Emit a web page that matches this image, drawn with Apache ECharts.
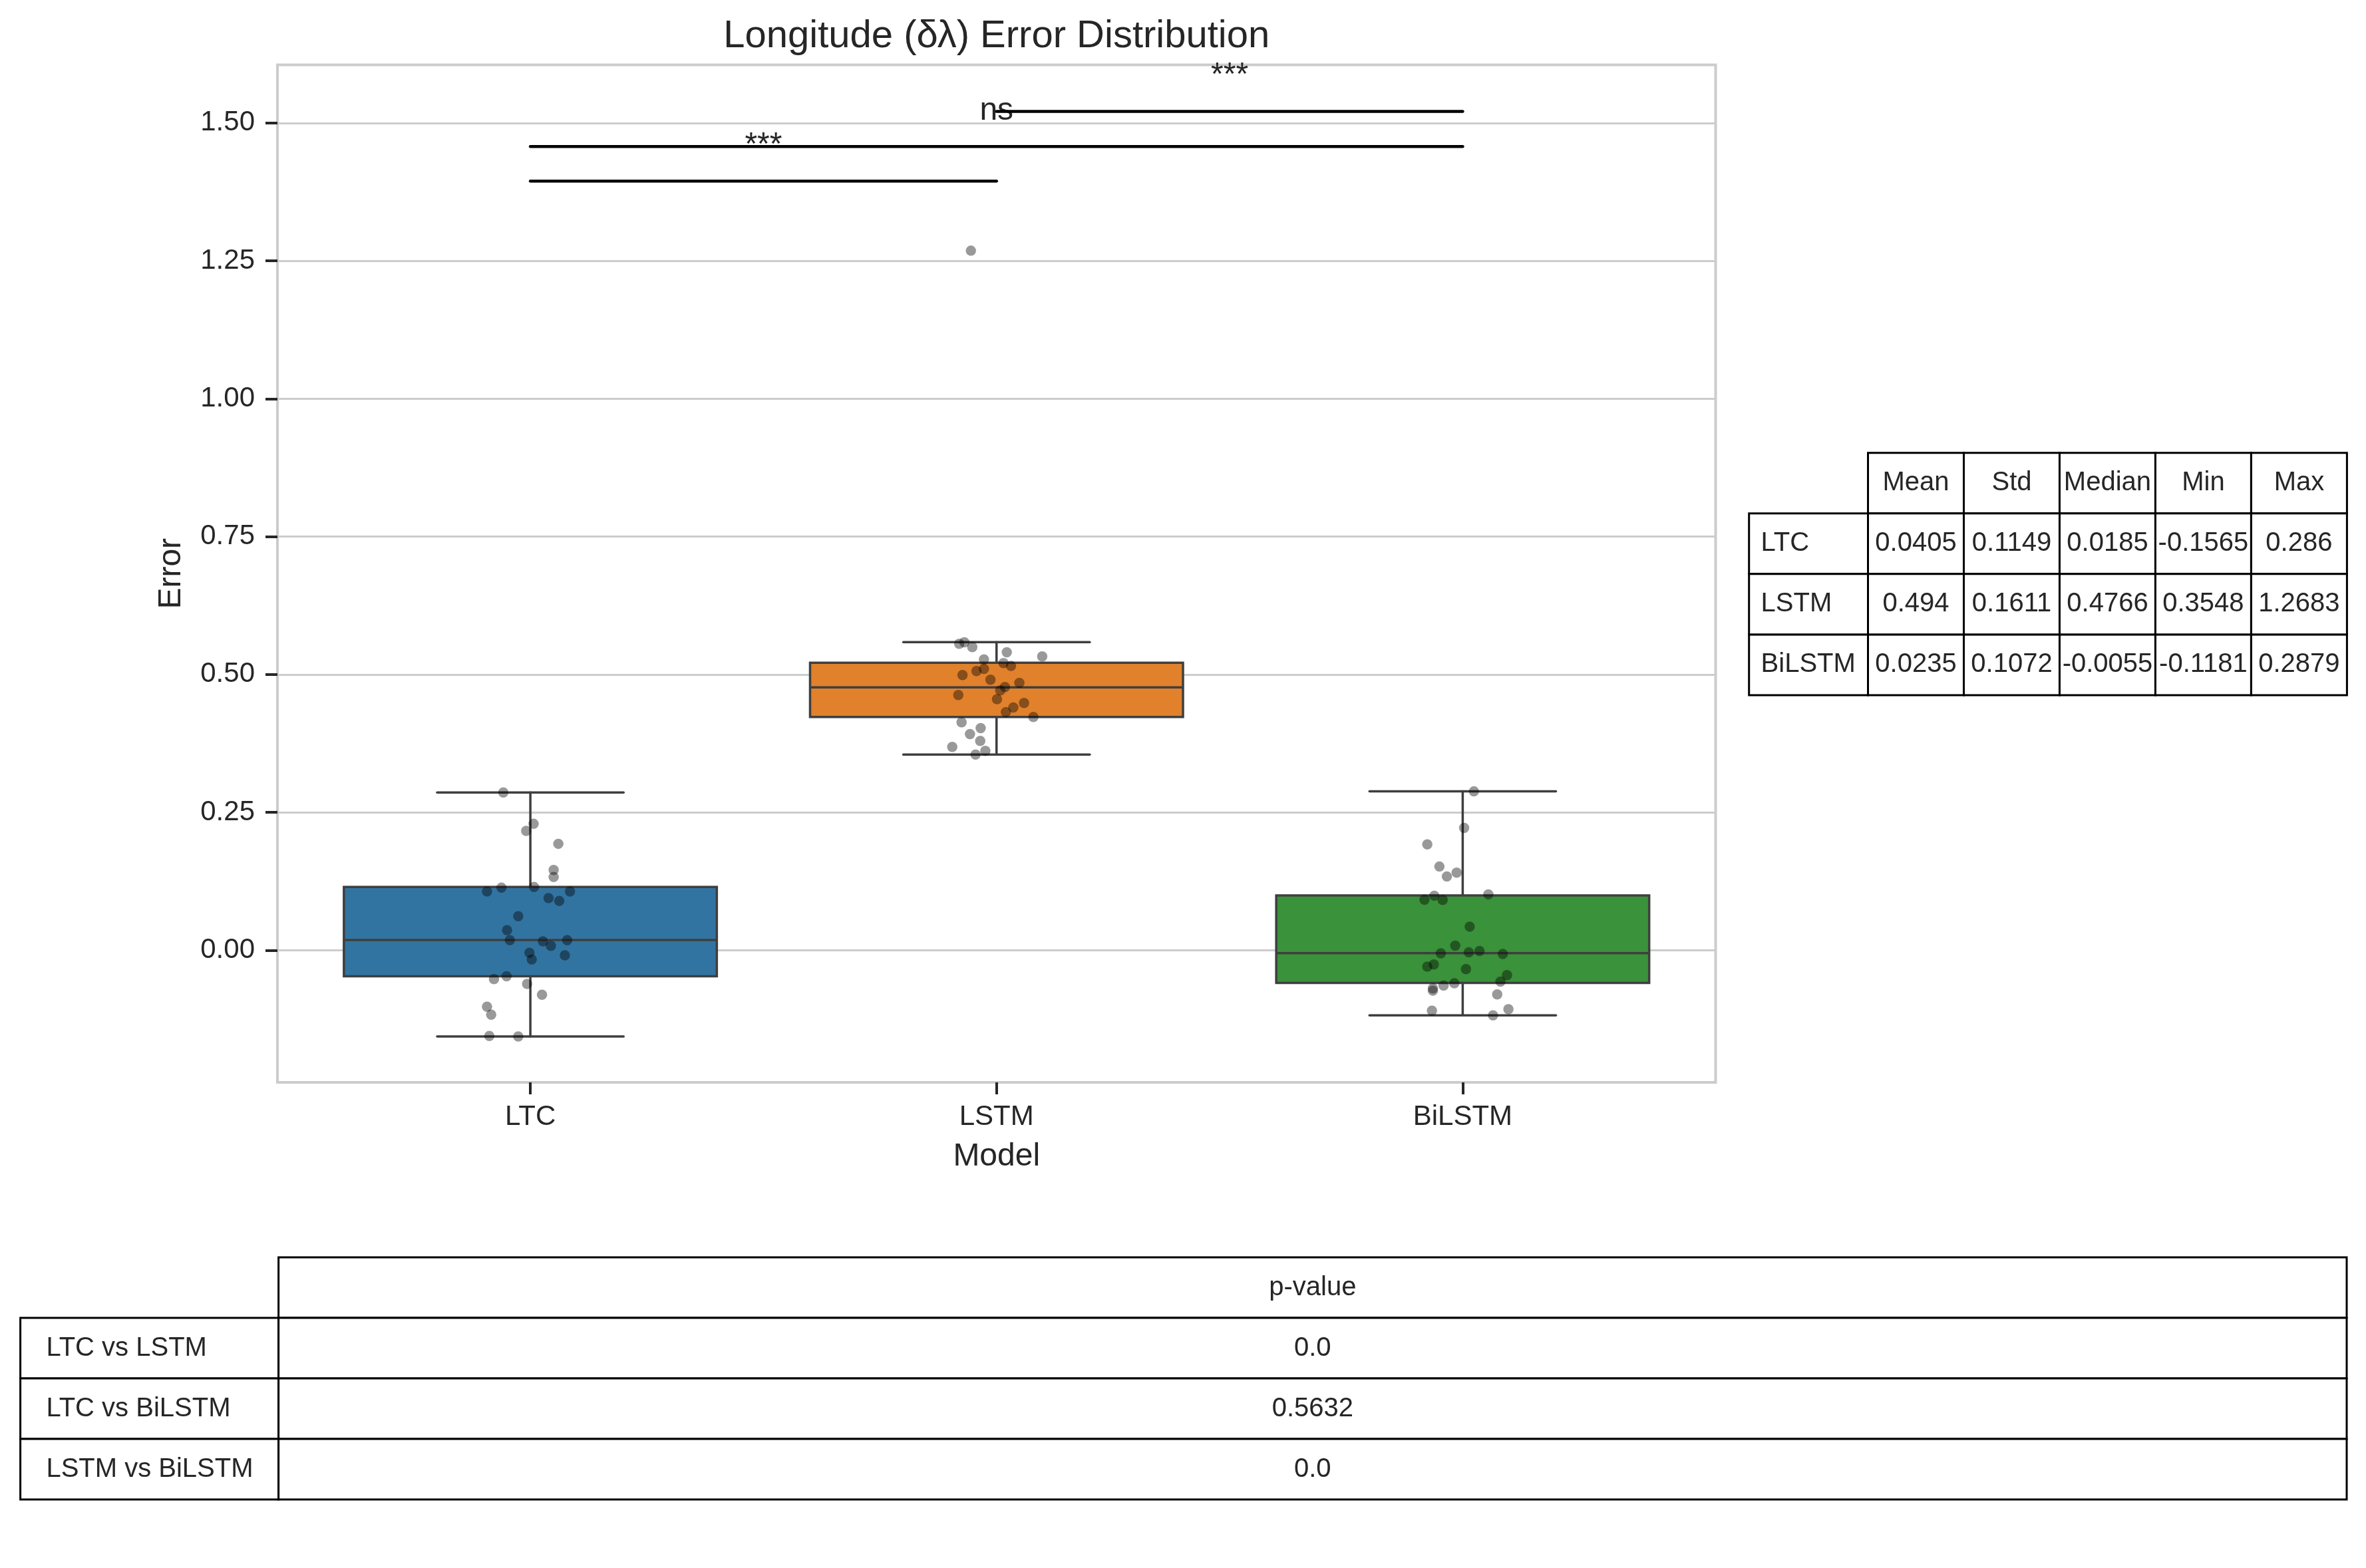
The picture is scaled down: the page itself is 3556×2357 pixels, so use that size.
<!DOCTYPE html>
<html><head><meta charset="utf-8">
<script src="https://cdn.jsdelivr.net/npm/echarts@6/dist/echarts.min.js"></script>
<style>html,body{margin:0;padding:0;background:#fff}#c{width:3556px;height:2357px}</style>
</head><body><div id="c"></div>
<script>
// ---------- data ----------
const categories = ['LTC', 'LSTM', 'BiLSTM'];
const yTicks = [0, 0.25, 0.5, 0.75, 1.0, 1.25, 1.5];

const boxLow    = [-0.1565, 0.3548, -0.1181];
const boxQ1     = [-0.0474, 0.4228, -0.0593];
const boxMedian = [0.0185, 0.4766, -0.0055];
const boxQ3     = [0.1145, 0.5213, 0.0992];
const boxHigh   = [0.286, 0.5587, 0.2879];

const ltcValues = [0.286,0.2291,0.2162,0.1929,0.1455,0.1326,0.1133,0.1145,0.1065,0.1065,0.0945,0.0892,0.0615,0.0362,0.0181,0.0161,0.0080,0.0181,-0.0048,-0.0169,-0.0092,-0.0474,-0.0523,-0.0611,-0.0808,-0.1025,-0.1170,-0.1555,-0.1565];
const ltcJitter = [-0.058,0.007,-0.009,0.060,0.050,0.050,-0.062,0.008,-0.093,0.085,0.039,0.062,-0.026,-0.050,-0.044,0.027,0.044,0.079,-0.002,0.003,0.074,-0.051,-0.078,-0.007,0.025,-0.093,-0.084,-0.088,-0.026];

const lstmValues = [0.5555,0.5583,0.5495,0.5402,0.5326,0.5273,0.5205,0.5153,0.5101,0.5060,0.4988,0.4903,0.4847,0.4771,0.4710,0.4626,0.4550,0.4481,0.4401,0.4316,0.4228,0.4131,0.4027,0.3918,0.3794,0.3685,0.3613,0.3548,1.2683];
const lstmJitter = [-0.080,-0.069,-0.052,0.022,0.098,-0.027,0.015,0.031,-0.027,-0.043,-0.073,-0.013,0.049,0.018,0.008,-0.082,0.001,0.059,0.036,0.020,0.079,-0.075,-0.034,-0.057,-0.035,-0.095,-0.024,-0.045,-0.055];

const bilstmValues = [0.2879,0.2218,0.1919,0.1516,0.1407,0.1335,0.0988,0.1012,0.0915,0.0911,0.0427,0.0081,-0.0056,-0.0040,-0.0016,-0.0069,-0.0258,-0.0298,-0.0343,-0.0452,-0.0569,-0.0601,-0.0641,-0.0694,-0.0734,-0.0802,-0.1097,-0.1069,-0.1181];
const bilstmJitter = [0.024,0.003,-0.076,-0.050,-0.013,-0.034,-0.061,0.055,-0.082,-0.043,0.015,-0.016,-0.047,0.013,0.036,0.086,-0.062,-0.076,0.007,0.095,0.081,-0.018,-0.041,-0.064,-0.064,0.074,-0.066,0.098,0.065];

const bracketPairs  = [[0, 1], [0, 2], [1, 2]];
const bracketLevels = [1.3945, 1.4572, 1.521];
const bracketLabels = ['***', 'ns', '***'];

const statColumns = ['Mean', 'Std', 'Median', 'Min', 'Max'];
const statRows = ['LTC', 'LSTM', 'BiLSTM'];
const statValues = [
  ['0.0405', '0.1149', '0.0185', '-0.1565', '0.286'],
  ['0.494', '0.1611', '0.4766', '0.3548', '1.2683'],
  ['0.0235', '0.1072', '-0.0055', '-0.1181', '0.2879']
];
const pHeader = ['p-value'];
const pairNames = ['LTC vs LSTM', 'LTC vs BiLSTM', 'LSTM vs BiLSTM'];
const pValues = ['0.0', '0.5632', '0.0'];

// ---------- style ----------
const FONT = '"Liberation Sans", Arial, Helvetica, sans-serif';
const TXT = '#262626';
const boxColors = ['#3274a1', '#e1812c', '#3a923a'];
const boxEdge = '#3f3f3f';
const statColWidths = [1.242, 1, 1, 1, 1, 1];
const pColWidths = [1, 8.011];
const labelOffset = 0.0645;

const pointSets = [[ltcValues, ltcJitter], [lstmValues, lstmJitter], [bilstmValues, bilstmJitter]];
const scatterData = [];
pointSets.forEach((s, i) => s[0].forEach((v, k) => scatterData.push([i + s[1][k], v])));

function buildCells(colWidths, header, rowLabels, values) {
  const edges = [0];
  colWidths.forEach(w => edges.push(edges[edges.length - 1] + w));
  const cells = [];
  header.forEach((h, j) => cells.push({x0: edges[j + 1], x1: edges[j + 2], y0: 0, y1: 1, text: h, align: 'center'}));
  rowLabels.forEach((r, i) => {
    cells.push({x0: edges[0], x1: edges[1], y0: i + 1, y1: i + 2, text: r, align: 'left'});
    values[i].forEach((v, j) => cells.push({x0: edges[j + 1], x1: edges[j + 2], y0: i + 1, y1: i + 2, text: v, align: 'center'}));
  });
  return {cells, total: edges[edges.length - 1]};
}
const statTable = buildCells(statColWidths, statColumns, statRows, statValues);
const pTable = buildCells(pColWidths, pHeader, pairNames, pValues.map(v => [v]));

function cellSeries(tbl, gi) {
  return {
    type: 'custom', coordinateSystem: 'cartesian2d', xAxisIndex: gi, yAxisIndex: gi, z: 5, silent: true,
    data: tbl.cells.map(c => [c.x0, c.y0, c.x1, c.y1]),
    renderItem: function (params, api) {
      const c = tbl.cells[params.dataIndex];
      const p0 = api.coord([c.x0, c.y0]);
      const p1 = api.coord([c.x1, c.y1]);
      const w = p1[0] - p0[0], h = p1[1] - p0[1];
      const tx = c.align === 'left' ? p0[0] + 0.1 * w : p0[0] + w / 2;
      return {type: 'group', children: [
        {type: 'rect', shape: {x: p0[0], y: p0[1], width: w, height: h}, style: {fill: '#ffffff', stroke: '#000000', lineWidth: 3}},
        {type: 'text', style: {text: c.text, x: tx, y: p0[1] + h / 2, align: c.align, verticalAlign: 'middle', fontSize: 40, fontFamily: FONT, fill: TXT}}
      ]};
    }
  };
}

const chart = echarts.init(document.getElementById('c'), null, {renderer: 'canvas'});
const catIdx = categories.map((_, i) => i);

chart.setOption({
  animation: false,
  backgroundColor: '#ffffff',
  title: {
    text: 'Longitude (δλ) Error Distribution', left: 1497.75, top: 26, textAlign: 'center', padding: 0,
    textStyle: {fontSize: 58, fontWeight: 'normal', color: TXT, fontFamily: FONT}
  },
  grid: [
    {left: 417, top: 97.5, width: 2161.5, height: 1529.5, show: true, borderColor: '#cccccc', borderWidth: 4, backgroundColor: 'transparent', outerBoundsMode: 'none'},
    {left: 2628.7, top: 680.7, width: 898.7, height: 364.3, outerBoundsMode: 'none'},
    {left: 30.6, top: 1890, width: 3496.4, height: 364, outerBoundsMode: 'none'}
  ],
  xAxis: [
    {gridIndex: 0, type: 'value', min: -0.5425, max: 2.5425,
      axisLine: {show: false, onZero: false}, splitLine: {show: false},
      axisTick: {show: true, customValues: catIdx, length: 18, lineStyle: {color: TXT, width: 4}},
      axisLabel: {customValues: catIdx, formatter: v => categories[Math.round(v)], fontSize: 42, color: TXT, fontFamily: FONT, margin: 31},
      name: 'Model', nameLocation: 'middle', nameGap: 88, nameTextStyle: {fontSize: 48, color: TXT, fontFamily: FONT}
    },
    {gridIndex: 1, type: 'value', min: 0, max: statTable.total, show: false},
    {gridIndex: 2, type: 'value', min: 0, max: pTable.total, show: false}
  ],
  yAxis: [
    {gridIndex: 0, type: 'value', min: -0.2397, max: 1.6053,
      axisLine: {show: false, onZero: false},
      axisTick: {show: true, customValues: yTicks, length: 18, lineStyle: {color: TXT, width: 4}},
      axisLabel: {customValues: yTicks, formatter: v => v.toFixed(2), fontSize: 42, color: TXT, fontFamily: FONT, margin: 34},
      splitLine: {show: true, lineStyle: {color: '#cccccc', width: 3}},
      name: 'Error', nameLocation: 'middle', nameGap: 135, nameRotate: 90, nameTextStyle: {fontSize: 48, color: TXT, fontFamily: FONT}
    },
    {gridIndex: 1, type: 'value', min: 0, max: 4, inverse: true, show: false},
    {gridIndex: 2, type: 'value', min: 0, max: 4, inverse: true, show: false}
  ],
  series: [
    {
      type: 'custom', coordinateSystem: 'cartesian2d', xAxisIndex: 0, yAxisIndex: 0, z: 2, silent: true,
      data: categories.map((c, i) => [i, boxLow[i], boxQ1[i], boxMedian[i], boxQ3[i], boxHigh[i]]),
      renderItem: function (params, api) {
        const i = api.value(0);
        const lo = api.value(1), q1 = api.value(2), md = api.value(3), q3 = api.value(4), hi = api.value(5);
        const tl = api.coord([i - 0.4, q3]);
        const br = api.coord([i + 0.4, q1]);
        const cx = api.coord([i, md])[0];
        const capL = api.coord([i - 0.2, md])[0], capR = api.coord([i + 0.2, md])[0];
        const yLo = api.coord([i, lo])[1], yHi = api.coord([i, hi])[1], yMd = api.coord([i, md])[1];
        const st = {stroke: boxEdge, lineWidth: 3.5, lineCap: 'round'};
        return {type: 'group', children: [
          {type: 'line', shape: {x1: cx, y1: tl[1], x2: cx, y2: yHi}, style: st},
          {type: 'line', shape: {x1: cx, y1: br[1], x2: cx, y2: yLo}, style: st},
          {type: 'line', shape: {x1: capL, y1: yHi, x2: capR, y2: yHi}, style: st},
          {type: 'line', shape: {x1: capL, y1: yLo, x2: capR, y2: yLo}, style: st},
          {type: 'rect', shape: {x: tl[0], y: tl[1], width: br[0] - tl[0], height: br[1] - tl[1]}, style: {fill: boxColors[params.dataIndex], stroke: boxEdge, lineWidth: 3.5}},
          {type: 'line', shape: {x1: tl[0], y1: yMd, x2: br[0], y2: yMd}, style: {stroke: boxEdge, lineWidth: 3.5}}
        ]};
      }
    },
    {
      type: 'scatter', xAxisIndex: 0, yAxisIndex: 0, z: 3, silent: true,
      symbol: 'circle', symbolSize: 15.5,
      itemStyle: {color: 'rgba(0,0,0,0.5)', borderWidth: 0},
      data: scatterData
    },
    {
      type: 'custom', coordinateSystem: 'cartesian2d', xAxisIndex: 0, yAxisIndex: 0, z: 4, silent: true, clip: false,
      data: bracketPairs.map((p, k) => [p[0], p[1], bracketLevels[k]]),
      renderItem: function (params, api) {
        const a = api.value(0), b = api.value(1), y = api.value(2);
        const p0 = api.coord([a, y]), p1 = api.coord([b, y]);
        const pt = api.coord([(a + b) / 2, y + labelOffset]);
        return {type: 'group', children: [
          {type: 'line', shape: {x1: p0[0], y1: p0[1], x2: p1[0], y2: p1[1]}, style: {stroke: '#000000', lineWidth: 4.5, lineCap: 'round'}},
          {type: 'text', style: {text: bracketLabels[params.dataIndex], x: pt[0], y: pt[1], align: 'center', verticalAlign: 'middle', fontSize: 48, fontFamily: FONT, fill: TXT}}
        ]};
      }
    },
    cellSeries(statTable, 1),
    cellSeries(pTable, 2)
  ]
});
</script>
</body></html>
